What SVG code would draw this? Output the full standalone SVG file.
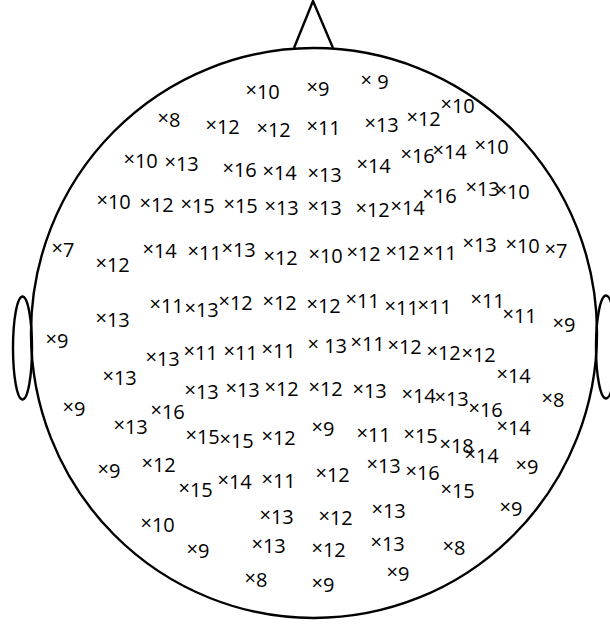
<svg xmlns="http://www.w3.org/2000/svg" width="610" height="624" viewBox="0 0 610 624">
<style>
.h{fill:none;stroke:#000;stroke-width:2.4}
text{font-family:"Open Sans","Noto Sans",sans-serif;font-size:20px;fill:#000}
.m{font-size:20px}
</style>
<rect width="610" height="624" fill="#fff"/>
<g id="head">
<polyline class="h" points="294,48 313,1 333,48"/>
<ellipse class="h" cx="22.5" cy="348" rx="9.5" ry="51.5"/>
<ellipse class="h" cx="606" cy="347" rx="10" ry="51.5"/>
<ellipse class="h" cx="314" cy="333" rx="283" ry="285" fill="#fff"/>
</g>
<g id="labels" transform="translate(-2.5,0)">
<text x="248" y="99"><tspan class="m" dy="-2.5">×</tspan><tspan dy="2.5">10</tspan></text>
<text x="309" y="96"><tspan class="m" dy="-2.5">×</tspan><tspan dy="2.5">9</tspan></text>
<text x="363" y="89"><tspan class="m" dy="-2.5">×</tspan><tspan dy="2.5"> 9</tspan></text>
<text x="443" y="113"><tspan class="m" dy="-2.5">×</tspan><tspan dy="2.5">10</tspan></text>
<text x="160" y="127"><tspan class="m" dy="-2.5">×</tspan><tspan dy="2.5">8</tspan></text>
<text x="208" y="134"><tspan class="m" dy="-2.5">×</tspan><tspan dy="2.5">12</tspan></text>
<text x="259" y="137"><tspan class="m" dy="-2.5">×</tspan><tspan dy="2.5">12</tspan></text>
<text x="309" y="135"><tspan class="m" dy="-2.5">×</tspan><tspan dy="2.5">11</tspan></text>
<text x="367" y="132"><tspan class="m" dy="-2.5">×</tspan><tspan dy="2.5">13</tspan></text>
<text x="409" y="126"><tspan class="m" dy="-2.5">×</tspan><tspan dy="2.5">12</tspan></text>
<text x="126" y="168"><tspan class="m" dy="-2.5">×</tspan><tspan dy="2.5">10</tspan></text>
<text x="167" y="171"><tspan class="m" dy="-2.5">×</tspan><tspan dy="2.5">13</tspan></text>
<text x="225" y="177"><tspan class="m" dy="-2.5">×</tspan><tspan dy="2.5">16</tspan></text>
<text x="265" y="180"><tspan class="m" dy="-2.5">×</tspan><tspan dy="2.5">14</tspan></text>
<text x="310" y="182"><tspan class="m" dy="-2.5">×</tspan><tspan dy="2.5">13</tspan></text>
<text x="359" y="173"><tspan class="m" dy="-2.5">×</tspan><tspan dy="2.5">14</tspan></text>
<text x="403" y="163"><tspan class="m" dy="-2.5">×</tspan><tspan dy="2.5">16</tspan></text>
<text x="435" y="159"><tspan class="m" dy="-2.5">×</tspan><tspan dy="2.5">14</tspan></text>
<text x="477" y="154"><tspan class="m" dy="-2.5">×</tspan><tspan dy="2.5">10</tspan></text>
<text x="99" y="209"><tspan class="m" dy="-2.5">×</tspan><tspan dy="2.5">10</tspan></text>
<text x="142" y="212"><tspan class="m" dy="-2.5">×</tspan><tspan dy="2.5">12</tspan></text>
<text x="183" y="213"><tspan class="m" dy="-2.5">×</tspan><tspan dy="2.5">15</tspan></text>
<text x="226" y="213"><tspan class="m" dy="-2.5">×</tspan><tspan dy="2.5">15</tspan></text>
<text x="267" y="215"><tspan class="m" dy="-2.5">×</tspan><tspan dy="2.5">13</tspan></text>
<text x="310" y="215"><tspan class="m" dy="-2.5">×</tspan><tspan dy="2.5">13</tspan></text>
<text x="358" y="217"><tspan class="m" dy="-2.5">×</tspan><tspan dy="2.5">12</tspan></text>
<text x="393" y="215"><tspan class="m" dy="-2.5">×</tspan><tspan dy="2.5">14</tspan></text>
<text x="425" y="203"><tspan class="m" dy="-2.5">×</tspan><tspan dy="2.5">16</tspan></text>
<text x="468" y="196"><tspan class="m" dy="-2.5">×</tspan><tspan dy="2.5">13</tspan></text>
<text x="498" y="199"><tspan class="m" dy="-2.5">×</tspan><tspan dy="2.5">10</tspan></text>
<text x="54" y="257"><tspan class="m" dy="-2.5">×</tspan><tspan dy="2.5">7</tspan></text>
<text x="98" y="272"><tspan class="m" dy="-2.5">×</tspan><tspan dy="2.5">12</tspan></text>
<text x="145" y="258"><tspan class="m" dy="-2.5">×</tspan><tspan dy="2.5">14</tspan></text>
<text x="190" y="260"><tspan class="m" dy="-2.5">×</tspan><tspan dy="2.5">11</tspan></text>
<text x="224" y="257"><tspan class="m" dy="-2.5">×</tspan><tspan dy="2.5">13</tspan></text>
<text x="266" y="265"><tspan class="m" dy="-2.5">×</tspan><tspan dy="2.5">12</tspan></text>
<text x="311" y="263"><tspan class="m" dy="-2.5">×</tspan><tspan dy="2.5">10</tspan></text>
<text x="349" y="261"><tspan class="m" dy="-2.5">×</tspan><tspan dy="2.5">12</tspan></text>
<text x="388" y="260"><tspan class="m" dy="-2.5">×</tspan><tspan dy="2.5">12</tspan></text>
<text x="425" y="260"><tspan class="m" dy="-2.5">×</tspan><tspan dy="2.5">11</tspan></text>
<text x="465" y="252"><tspan class="m" dy="-2.5">×</tspan><tspan dy="2.5">13</tspan></text>
<text x="508" y="253"><tspan class="m" dy="-2.5">×</tspan><tspan dy="2.5">10</tspan></text>
<text x="547" y="258"><tspan class="m" dy="-2.5">×</tspan><tspan dy="2.5">7</tspan></text>
<text x="98" y="327"><tspan class="m" dy="-2.5">×</tspan><tspan dy="2.5">13</tspan></text>
<text x="152" y="313"><tspan class="m" dy="-2.5">×</tspan><tspan dy="2.5">11</tspan></text>
<text x="187" y="317"><tspan class="m" dy="-2.5">×</tspan><tspan dy="2.5">13</tspan></text>
<text x="221" y="310"><tspan class="m" dy="-2.5">×</tspan><tspan dy="2.5">12</tspan></text>
<text x="265" y="310"><tspan class="m" dy="-2.5">×</tspan><tspan dy="2.5">12</tspan></text>
<text x="309" y="313"><tspan class="m" dy="-2.5">×</tspan><tspan dy="2.5">12</tspan></text>
<text x="348" y="308"><tspan class="m" dy="-2.5">×</tspan><tspan dy="2.5">11</tspan></text>
<text x="387" y="315"><tspan class="m" dy="-2.5">×</tspan><tspan dy="2.5">11</tspan></text>
<text x="420" y="314"><tspan class="m" dy="-2.5">×</tspan><tspan dy="2.5">11</tspan></text>
<text x="473" y="308"><tspan class="m" dy="-2.5">×</tspan><tspan dy="2.5">11</tspan></text>
<text x="505" y="323"><tspan class="m" dy="-2.5">×</tspan><tspan dy="2.5">11</tspan></text>
<text x="555" y="332"><tspan class="m" dy="-2.5">×</tspan><tspan dy="2.5">9</tspan></text>
<text x="48" y="348"><tspan class="m" dy="-2.5">×</tspan><tspan dy="2.5">9</tspan></text>
<text x="148" y="366"><tspan class="m" dy="-2.5">×</tspan><tspan dy="2.5">13</tspan></text>
<text x="186" y="360"><tspan class="m" dy="-2.5">×</tspan><tspan dy="2.5">11</tspan></text>
<text x="226" y="360"><tspan class="m" dy="-2.5">×</tspan><tspan dy="2.5">11</tspan></text>
<text x="264" y="358"><tspan class="m" dy="-2.5">×</tspan><tspan dy="2.5">11</tspan></text>
<text x="310" y="353"><tspan class="m" dy="-2.5">×</tspan><tspan dy="2.5"> 13</tspan></text>
<text x="353" y="351"><tspan class="m" dy="-2.5">×</tspan><tspan dy="2.5">11</tspan></text>
<text x="390" y="354"><tspan class="m" dy="-2.5">×</tspan><tspan dy="2.5">12</tspan></text>
<text x="429" y="360"><tspan class="m" dy="-2.5">×</tspan><tspan dy="2.5">12</tspan></text>
<text x="464" y="362"><tspan class="m" dy="-2.5">×</tspan><tspan dy="2.5">12</tspan></text>
<text x="499" y="383"><tspan class="m" dy="-2.5">×</tspan><tspan dy="2.5">14</tspan></text>
<text x="105" y="385"><tspan class="m" dy="-2.5">×</tspan><tspan dy="2.5">13</tspan></text>
<text x="187" y="399"><tspan class="m" dy="-2.5">×</tspan><tspan dy="2.5">13</tspan></text>
<text x="228" y="397"><tspan class="m" dy="-2.5">×</tspan><tspan dy="2.5">13</tspan></text>
<text x="267" y="396"><tspan class="m" dy="-2.5">×</tspan><tspan dy="2.5">12</tspan></text>
<text x="311" y="396"><tspan class="m" dy="-2.5">×</tspan><tspan dy="2.5">12</tspan></text>
<text x="355" y="398"><tspan class="m" dy="-2.5">×</tspan><tspan dy="2.5">13</tspan></text>
<text x="404" y="403"><tspan class="m" dy="-2.5">×</tspan><tspan dy="2.5">14</tspan></text>
<text x="437" y="406"><tspan class="m" dy="-2.5">×</tspan><tspan dy="2.5">13</tspan></text>
<text x="471" y="417"><tspan class="m" dy="-2.5">×</tspan><tspan dy="2.5">16</tspan></text>
<text x="544" y="407"><tspan class="m" dy="-2.5">×</tspan><tspan dy="2.5">8</tspan></text>
<text x="65" y="416"><tspan class="m" dy="-2.5">×</tspan><tspan dy="2.5">9</tspan></text>
<text x="153" y="419"><tspan class="m" dy="-2.5">×</tspan><tspan dy="2.5">16</tspan></text>
<text x="116" y="434"><tspan class="m" dy="-2.5">×</tspan><tspan dy="2.5">13</tspan></text>
<text x="188" y="444"><tspan class="m" dy="-2.5">×</tspan><tspan dy="2.5">15</tspan></text>
<text x="222" y="448"><tspan class="m" dy="-2.5">×</tspan><tspan dy="2.5">15</tspan></text>
<text x="264" y="445"><tspan class="m" dy="-2.5">×</tspan><tspan dy="2.5">12</tspan></text>
<text x="314" y="436"><tspan class="m" dy="-2.5">×</tspan><tspan dy="2.5">9</tspan></text>
<text x="359" y="442"><tspan class="m" dy="-2.5">×</tspan><tspan dy="2.5">11</tspan></text>
<text x="406" y="443"><tspan class="m" dy="-2.5">×</tspan><tspan dy="2.5">15</tspan></text>
<text x="442" y="453"><tspan class="m" dy="-2.5">×</tspan><tspan dy="2.5">18</tspan></text>
<text x="499" y="435"><tspan class="m" dy="-2.5">×</tspan><tspan dy="2.5">14</tspan></text>
<text x="467" y="463"><tspan class="m" dy="-2.5">×</tspan><tspan dy="2.5">14</tspan></text>
<text x="100" y="478"><tspan class="m" dy="-2.5">×</tspan><tspan dy="2.5">9</tspan></text>
<text x="144" y="472"><tspan class="m" dy="-2.5">×</tspan><tspan dy="2.5">12</tspan></text>
<text x="181" y="497"><tspan class="m" dy="-2.5">×</tspan><tspan dy="2.5">15</tspan></text>
<text x="220" y="489"><tspan class="m" dy="-2.5">×</tspan><tspan dy="2.5">14</tspan></text>
<text x="264" y="488"><tspan class="m" dy="-2.5">×</tspan><tspan dy="2.5">11</tspan></text>
<text x="318" y="482"><tspan class="m" dy="-2.5">×</tspan><tspan dy="2.5">12</tspan></text>
<text x="369" y="473"><tspan class="m" dy="-2.5">×</tspan><tspan dy="2.5">13</tspan></text>
<text x="408" y="480"><tspan class="m" dy="-2.5">×</tspan><tspan dy="2.5">16</tspan></text>
<text x="443" y="498"><tspan class="m" dy="-2.5">×</tspan><tspan dy="2.5">15</tspan></text>
<text x="518" y="474"><tspan class="m" dy="-2.5">×</tspan><tspan dy="2.5">9</tspan></text>
<text x="502" y="516"><tspan class="m" dy="-2.5">×</tspan><tspan dy="2.5">9</tspan></text>
<text x="143" y="532"><tspan class="m" dy="-2.5">×</tspan><tspan dy="2.5">10</tspan></text>
<text x="262" y="524"><tspan class="m" dy="-2.5">×</tspan><tspan dy="2.5">13</tspan></text>
<text x="321" y="525"><tspan class="m" dy="-2.5">×</tspan><tspan dy="2.5">12</tspan></text>
<text x="374" y="518"><tspan class="m" dy="-2.5">×</tspan><tspan dy="2.5">13</tspan></text>
<text x="189" y="558"><tspan class="m" dy="-2.5">×</tspan><tspan dy="2.5">9</tspan></text>
<text x="254" y="553"><tspan class="m" dy="-2.5">×</tspan><tspan dy="2.5">13</tspan></text>
<text x="314" y="557"><tspan class="m" dy="-2.5">×</tspan><tspan dy="2.5">12</tspan></text>
<text x="373" y="551"><tspan class="m" dy="-2.5">×</tspan><tspan dy="2.5">13</tspan></text>
<text x="445" y="555"><tspan class="m" dy="-2.5">×</tspan><tspan dy="2.5">8</tspan></text>
<text x="247" y="587"><tspan class="m" dy="-2.5">×</tspan><tspan dy="2.5">8</tspan></text>
<text x="314" y="592"><tspan class="m" dy="-2.5">×</tspan><tspan dy="2.5">9</tspan></text>
<text x="389" y="581"><tspan class="m" dy="-2.5">×</tspan><tspan dy="2.5">9</tspan></text>
</g>
</svg>
